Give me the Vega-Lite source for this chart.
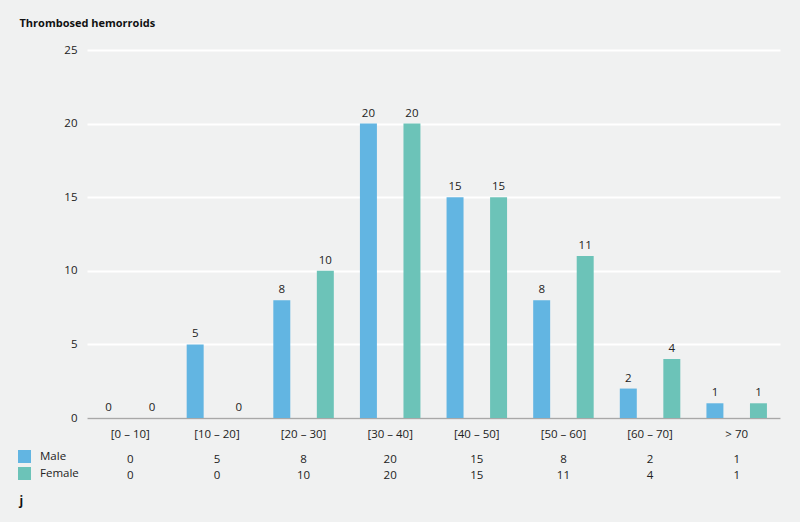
{
  "$schema": "https://vega.github.io/schema/vega-lite/v6.json",
  "background": "#f0f1f1",
  "padding": {"left": 18, "top": 17, "right": 20, "bottom": 15},
  "config": {
    "view": {"stroke": null},
    "font": "Open Sans",
    "text": {"font": "Open Sans", "fontSize": 11.5, "color": "#222222"},
    "axis": {"labelFont": "Open Sans", "labelFontSize": 11.5, "labelColor": "#222222", "titleFont": "Open Sans", "titleColor": "#111111"},
    "legend": {"labelFont": "Open Sans", "labelFontSize": 11.5, "labelColor": "#222222"}
  },
  "datasets": {
    "counts": [
      {"age": "[0 – 10]", "sex": "Male", "count": 0},
      {"age": "[0 – 10]", "sex": "Female", "count": 0},
      {"age": "[10 – 20]", "sex": "Male", "count": 5},
      {"age": "[10 – 20]", "sex": "Female", "count": 0},
      {"age": "[20 – 30]", "sex": "Male", "count": 8},
      {"age": "[20 – 30]", "sex": "Female", "count": 10},
      {"age": "[30 – 40]", "sex": "Male", "count": 20},
      {"age": "[30 – 40]", "sex": "Female", "count": 20},
      {"age": "[40 – 50]", "sex": "Male", "count": 15},
      {"age": "[40 – 50]", "sex": "Female", "count": 15},
      {"age": "[50 – 60]", "sex": "Male", "count": 8},
      {"age": "[50 – 60]", "sex": "Female", "count": 11},
      {"age": "[60 – 70]", "sex": "Male", "count": 2},
      {"age": "[60 – 70]", "sex": "Female", "count": 4},
      {"age": "> 70", "sex": "Male", "count": 1},
      {"age": "> 70", "sex": "Female", "count": 1}
    ]
  },
  "data": {"name": "counts"},
  "spacing": 12,
  "vconcat": [
    {
      "width": 693,
      "height": 368,
      "encoding": {
        "x": {"field": "age", "type": "nominal", "sort": null,
          "scale": {"paddingInner": 0, "paddingOuter": 0},
          "axis": {"title": null, "labelAngle": 0, "ticks": false, "labelPadding": 10, "domainColor": "#a8a8a8", "domainWidth": 1.5, "grid": false}},
        "xOffset": {"field": "sex", "type": "nominal", "sort": ["Male", "Female"],
          "scale": {"paddingInner": 0.61, "paddingOuter": 0.3}},
        "y": {"field": "count", "type": "quantitative",
          "scale": {"domain": [0, 25], "nice": false},
          "axis": {"values": [0, 5, 10, 15, 20, 25], "ticks": false, "domain": false, "labelPadding": 10,
            "gridColor": "#ffffff", "gridWidth": 2, "gridOpacity": 1,
            "title": "Thrombosed hemorroids", "titleAngle": 0, "titleX": -68, "titleY": -27,
            "titleAlign": "left", "titleBaseline": "middle", "titleFontSize": 11, "titleFontWeight": "bold"}}
      },
      "layer": [
        {
          "mark": {"type": "bar"},
          "encoding": {
            "color": {"field": "sex", "type": "nominal",
              "scale": {"domain": ["Male", "Female"], "range": ["#62b5e2", "#6cc3b8"]},
              "legend": {"title": null, "orient": "none", "legendX": -69, "legendY": 400,
                "symbolType": "square", "symbolSize": 169, "symbolStrokeWidth": 0,
                "rowPadding": 4, "labelOffset": 9, "padding": 0}}
          }
        },
        {
          "mark": {"type": "text", "baseline": "alphabetic", "dy": -7},
          "encoding": {"text": {"field": "count", "type": "quantitative"}}
        }
      ]
    },
    {
      "width": 693,
      "height": 32,
      "mark": {"type": "text", "baseline": "middle"},
      "encoding": {
        "x": {"field": "age", "type": "nominal", "sort": null,
          "scale": {"paddingInner": 0, "paddingOuter": 0},
          "axis": {"labels": false, "ticks": false, "domain": false, "grid": false,
            "title": "j", "titleX": -68, "titleY": 20.5, "titleAlign": "left", "titleBaseline": "alphabetic",
            "titleFontSize": 12, "titleFontWeight": "bold"}},
        "y": {"field": "sex", "type": "nominal", "sort": ["Male", "Female"],
          "scale": {"paddingInner": 0, "paddingOuter": 0},
          "axis": null},
        "text": {"field": "count", "type": "quantitative"}
      }
    }
  ]
}
